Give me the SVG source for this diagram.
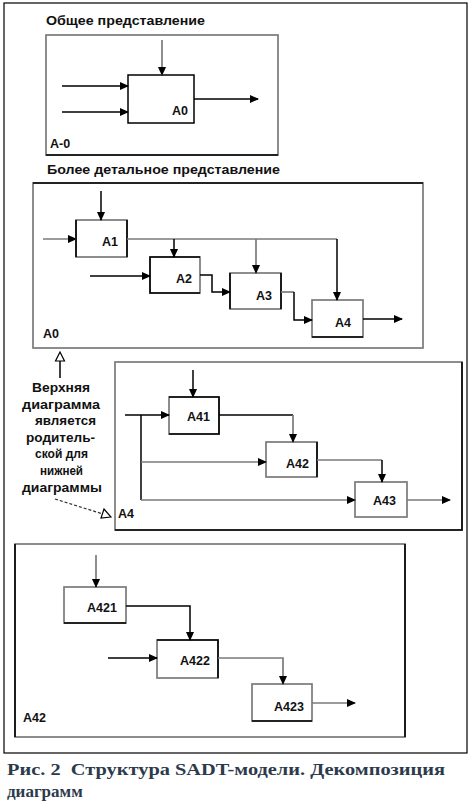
<svg xmlns="http://www.w3.org/2000/svg" width="474" height="810" viewBox="0 0 474 810">
<style>
.t{font-family:"Liberation Sans",Arial,sans-serif;font-weight:bold;font-size:12.5px;fill:#111}
.n{font-family:"Liberation Sans",Arial,sans-serif;font-weight:bold;font-size:13px;fill:#111}
.cap{font-family:"Liberation Serif","Times New Roman",serif;font-weight:bold;font-size:17px;fill:#2c3a4c}
.box{fill:#fff;stroke:#7a7a7a;stroke-width:1.7}
.blk{fill:none;stroke:#000;stroke-width:1.6}
.g{fill:none;stroke:#7a7a7a;stroke-width:1.7}
.k{fill:none;stroke:#000;stroke-width:1.5}
.d{fill:none;stroke:#333;stroke-width:1.2;stroke-dasharray:3 2}
.open{fill:#fff;stroke:#000;stroke-width:1.2}
</style>
<defs>
<marker id="ah" markerUnits="userSpaceOnUse" markerWidth="9" markerHeight="8" refX="8" refY="4" orient="auto">
<path d="M0,0 L9,4 L0,8 z" fill="#000"/>
</marker>
</defs>
<rect x="4" y="3" width="463" height="750" fill="#fff" stroke="#000" stroke-width="1.2"/>

<!-- Frame A-0 -->
<g id="frame-a-0">
<text class="t" x="46" y="25" textLength="159" lengthAdjust="spacingAndGlyphs">Общее представление</text>
<rect class="box" x="46" y="35" width="232" height="120"/>
<path class="blk" d="M46,155 H278"/>
<text class="t" x="50" y="148">A-0</text>
</g>
<g id="node-a0-top">
<rect x="128" y="75" width="66" height="48" fill="#fff" stroke="#000" stroke-width="1.5"/>
<text class="t" x="172" y="115">A0</text>
</g>

<!-- Frame A0 -->
<g id="frame-a0">
<text class="t" x="47" y="174" textLength="233" lengthAdjust="spacingAndGlyphs">Более детальное представление</text>
<rect class="box" x="33" y="183" width="390" height="165"/>
<path class="blk" d="M33,183 H423"/>
<text class="t" x="43" y="338">A0</text>
</g>
<g id="node-a1">
<rect class="box" x="76" y="220" width="51" height="37"/>
<path class="blk" d="M76,220 V257 M127,220 V257"/>
<text class="t" x="102" y="246">A1</text>
</g>
<g id="node-a2">
<rect class="box" x="150" y="257" width="50" height="36"/>
<path class="blk" d="M200,293 H150 V257 H200"/>
<text class="t" x="176" y="283">A2</text>
</g>
<g id="node-a3">
<rect class="box" x="230" y="273" width="51" height="36"/>
<path class="blk" d="M230,273 V309 M281,273 V309"/>
<text class="t" x="256" y="300">A3</text>
</g>
<g id="node-a4">
<rect class="box" x="312" y="300" width="51" height="37"/>
<path class="blk" d="M312,337 H363"/>
<text class="t" x="335" y="327">A4</text>
</g>

<!-- Frame A4 -->
<g id="frame-a4">
<rect class="box" x="115" y="362" width="347" height="168"/>
<path class="blk" d="M462,362 V530 H115"/>
<text class="t" x="118" y="518">A4</text>
</g>
<g id="node-a41">
<rect class="box" x="169" y="397" width="50" height="37"/>
<path class="blk" d="M169,397 H219 V434 H169"/>
<text class="t" x="187" y="421">A41</text>
</g>
<g id="node-a42">
<rect class="box" x="266" y="442" width="51" height="35"/>
<path class="blk" d="M317,442 V477"/>
<text class="t" x="286" y="468">A42</text>
</g>
<g id="node-a43">
<rect class="box" x="355" y="482" width="52" height="35"/>
<text class="t" x="373" y="505">A43</text>
</g>

<!-- Frame A42 -->
<g id="frame-a42">
<rect class="box" x="15" y="544" width="390" height="193"/>
<path class="blk" d="M15,544 V737 M405,544 V737"/>
<text class="t" x="23" y="722">A42</text>
</g>
<g id="node-a421">
<rect class="box" x="64" y="587" width="62" height="36"/>
<path class="blk" d="M64,623 H126"/>
<text class="t" x="87" y="612">A421</text>
</g>
<g id="node-a422">
<rect class="box" x="157" y="640" width="61" height="38"/>
<path class="blk" d="M157,640 H218 V678"/>
<text class="t" x="180" y="665">A422</text>
</g>
<g id="node-a423">
<rect class="box" x="252" y="684" width="60" height="37"/>
<path class="blk" d="M252,721 H312"/>
<text class="t" x="274" y="711">A423</text>
</g>

<!-- Note -->
<g id="note">
<text class="n" x="32" y="392" textLength="58" lengthAdjust="spacingAndGlyphs">Верхняя</text>
<text class="n" x="22" y="409" textLength="78" lengthAdjust="spacingAndGlyphs">диаграмма</text>
<text class="n" x="35" y="425" textLength="61" lengthAdjust="spacingAndGlyphs">является</text>
<text class="n" x="26" y="442" textLength="69" lengthAdjust="spacingAndGlyphs">родитель-</text>
<text class="n" x="35" y="458" textLength="53" lengthAdjust="spacingAndGlyphs">ской для</text>
<text class="n" x="40" y="475" textLength="43" lengthAdjust="spacingAndGlyphs">нижней</text>
<text class="n" x="22" y="492" textLength="80" lengthAdjust="spacingAndGlyphs">диаграммы</text>
</g>

<!-- Connectors -->
<g id="connectors">
<!-- A-0 -->
<path class="g" d="M162,40 V75" marker-end="url(#ah)"/>
<path class="k" d="M62,86 H128" marker-end="url(#ah)"/>
<path class="k" d="M62,112 H128" marker-end="url(#ah)"/>
<path class="k" d="M194,99 H258" marker-end="url(#ah)"/>
<!-- A0 -->
<path class="k" d="M101,191 V220" marker-end="url(#ah)"/>
<path class="g" d="M43,239 H76" marker-end="url(#ah)"/>
<path class="g" d="M127,239 H337"/>
<path class="k" d="M337,239 V300" marker-end="url(#ah)"/>
<path class="k" d="M174,239 V257" marker-end="url(#ah)"/>
<path class="g" d="M256,239 V273" marker-end="url(#ah)"/>
<path class="k" d="M90,276 H150" marker-end="url(#ah)"/>
<path class="k" d="M200,275 H212 V292 H230" marker-end="url(#ah)"/>
<path class="g" d="M281,292 H294"/>
<path class="k" d="M294,292 V320 H312" marker-end="url(#ah)"/>
<path class="k" d="M363,319 H402" marker-end="url(#ah)"/>
<!-- A4 -->
<path class="k" d="M193,370 V397" marker-end="url(#ah)"/>
<path class="k" d="M125,415 H169" marker-end="url(#ah)"/>
<path class="k" d="M141,415 V500"/>
<path class="g" d="M141,462 H266" marker-end="url(#ah)"/>
<path class="g" d="M141,500 H355" marker-end="url(#ah)"/>
<path class="k" d="M219,415 H293"/>
<path class="g" d="M293,415 V442" marker-end="url(#ah)"/>
<path class="g" d="M317,460 H382"/>
<path class="k" d="M382,460 V482" marker-end="url(#ah)"/>
<path class="g" d="M407,500 H450" marker-end="url(#ah)"/>
<!-- A42 -->
<path class="g" d="M96,555 V587" marker-end="url(#ah)"/>
<path class="k" d="M126,606 H190 V640" marker-end="url(#ah)"/>
<path class="k" d="M108,658 H157" marker-end="url(#ah)"/>
<path class="g" d="M218,658 H283 V684" marker-end="url(#ah)"/>
<path class="g" d="M312,703 H355" marker-end="url(#ah)"/>
<!-- note arrows -->
<path class="k" d="M60,361 V378"/>
<polygon class="open" points="60,352 55.5,361 64.5,361"/>
<path class="d" d="M55,499 L103,514"/>
<polygon class="open" points="111,517 101,518 104,509"/>
</g>

<text class="cap" x="7" y="775" textLength="438" lengthAdjust="spacingAndGlyphs">Рис. 2&#160; Структура SADT-модели. Декомпозиция</text>
<text class="cap" x="7" y="797">диаграмм</text>
</svg>
